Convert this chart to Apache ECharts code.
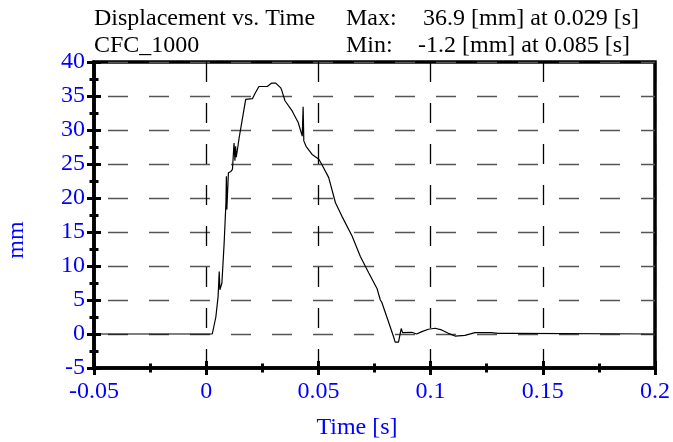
<!DOCTYPE html>
<html>
<head>
<meta charset="utf-8">
<script src="https://cdn.jsdelivr.net/npm/echarts@6/dist/echarts.min.js"></script>
<style>
	html, body { margin: 0; padding: 0; background: #fff; }
	#container { width: 673px; height: 442px; }
</style>
</head>
<body>
<div id="container"></div>
<script>
// time [s] and displacement [mm]
var tiempo = [-0.05, 0.0027, 0.0043, 0.0053, 0.0058, 0.0061, 0.0070, 0.0080, 0.0088, 0.0090, 0.0092, 0.0099,
	0.0110, 0.0117, 0.0124, 0.0128, 0.0131, 0.0134, 0.0139, 0.0147, 0.0161, 0.0176, 0.0206, 0.0218, 0.0235,
	0.0272, 0.0292, 0.0310, 0.0332, 0.0336, 0.0351, 0.0383, 0.0410, 0.0428, 0.0432, 0.0435, 0.0445, 0.0472,
	0.0502, 0.0516, 0.0546, 0.0576, 0.0605, 0.0650, 0.0687, 0.0724, 0.0761, 0.0776, 0.0782, 0.0805, 0.0835,
	0.0842, 0.0857, 0.0869, 0.0875, 0.0916, 0.0938, 0.0961, 0.0990, 0.1020, 0.1049, 0.1079, 0.1109, 0.1153,
	0.1198, 0.1271, 0.1301, 0.1368, 0.1375, 0.2];
var desplazamiento = [0, 0, 2.5, 5.5, 9.2, 6.5, 7.5, 13.4, 19.3, 23.2, 18.3, 23.7,
	23.9, 24.2, 28.1, 25.5, 27.6, 26.0, 27.1, 28.9, 31.6, 34.5, 34.6, 35.4, 36.4,
	36.4, 36.9, 36.9, 36.2, 35.9, 34.3, 32.8, 31.1, 29.1, 33.4, 28.4, 27.6, 26.4,
	25.7, 24.9, 23.0, 19.3, 17.3, 14.4, 11.4, 9.0, 6.7, 5.0, 4.7, 2.5, -0.4,
	-1.2, -1.2, 0.8, 0.2, 0.25, 0, 0.35, 0.7, 0.85, 0.6, 0.1, -0.3, -0.2,
	0.2, 0.2, 0.1, 0.1, 0, 0];
var ticksX = [-0.05, 0.2, 0.05];
var ticksY = [-5, 40, 5];
var titulo = 'Displacement vs. Time';
var filtro = 'CFC_1000';
var maxTexto = '36.9 [mm] at 0.029 [s]';
var minTexto = '-1.2 [mm] at 0.085 [s]';

var fuente = 'Liberation Serif';
var azul = '#0000ff';

var myChart = echarts.init(document.getElementById('container'));
var serie = tiempo.map(function (t, i) { return [t, desplazamiento[i]]; });

function ejeX(inside) {
	return {
		type: 'value',
		position: 'bottom',
		min: ticksX[0], max: ticksX[1], interval: ticksX[2],
		axisLine: { show: !inside, onZero: false, lineStyle: { color: '#000', width: 3.5 } },
		axisTick: { show: true, inside: inside, length: 7, lineStyle: { color: '#000', width: 3 } },
		minorTick: { show: true, splitNumber: 2, length: 4.5, lineStyle: { color: '#000', width: 3 } },
		axisLabel: { show: !inside, color: azul, fontFamily: fuente, fontSize: 24, margin: 12 },
		splitLine: { show: !inside, lineStyle: { color: '#000', width: 1.3, type: [20, 21] } }
	};
}
function ejeY(inside) {
	return {
		type: 'value',
		position: 'left',
		min: ticksY[0], max: ticksY[1], interval: ticksY[2],
		axisLine: { show: !inside, onZero: false, lineStyle: { color: '#000', width: 3.5 } },
		axisTick: { show: true, inside: inside, length: 7, lineStyle: { color: '#000', width: 3 } },
		minorTick: { show: true, splitNumber: 2, length: 4.5, lineStyle: { color: '#000', width: 3 } },
		axisLabel: { show: !inside, color: azul, fontFamily: fuente, fontSize: 24, margin: 9 },
		splitLine: { show: !inside, lineStyle: { color: '#555', width: 1.3, type: [20, 21], dashOffset: 27 } }
	};
}

var option = {
	animation: false,
	backgroundColor: '#fff',
	grid: {
		left: 94, right: 16, top: 62, bottom: 74,
		show: true, borderColor: '#000', borderWidth: 3.5, backgroundColor: 'transparent'
	},
	xAxis: [ejeX(false), ejeX(true)],
	yAxis: [ejeY(false), ejeY(true)],
	graphic: [
		{ type: 'text', left: 94, top: 7, style: { text: titulo, font: '24px ' + fuente, fill: '#000' } },
		{ type: 'text', left: 94, top: 34, style: { text: filtro, font: '24px ' + fuente, fill: '#000' } },
		{ type: 'text', left: 346, top: 7, style: { text: 'Max:', font: '24px ' + fuente, fill: '#000' } },
		{ type: 'text', left: 346, top: 34, style: { text: 'Min:', font: '24px ' + fuente, fill: '#000' } },
		{ type: 'text', left: 423, top: 7, style: { text: maxTexto, font: '24px ' + fuente, fill: '#000' } },
		{ type: 'text', left: 418, top: 34, style: { text: minTexto, font: '24px ' + fuente, fill: '#000' } },
		{ type: 'text', x: 357, y: 428, style: { text: 'Time [s]', font: '24px ' + fuente, fill: azul, align: 'center', verticalAlign: 'middle' } },
		{ type: 'text', x: 17, y: 240, rotation: Math.PI / 2, style: { text: 'mm', font: '24px ' + fuente, fill: azul, align: 'center', verticalAlign: 'middle' } }
	],
	series: [{
		type: 'line',
		data: serie,
		showSymbol: false,
		symbol: 'none',
		lineStyle: { color: '#000', width: 1.2 },
		z: 5
	}]
};
myChart.setOption(option, true);
</script>
</body>
</html>
